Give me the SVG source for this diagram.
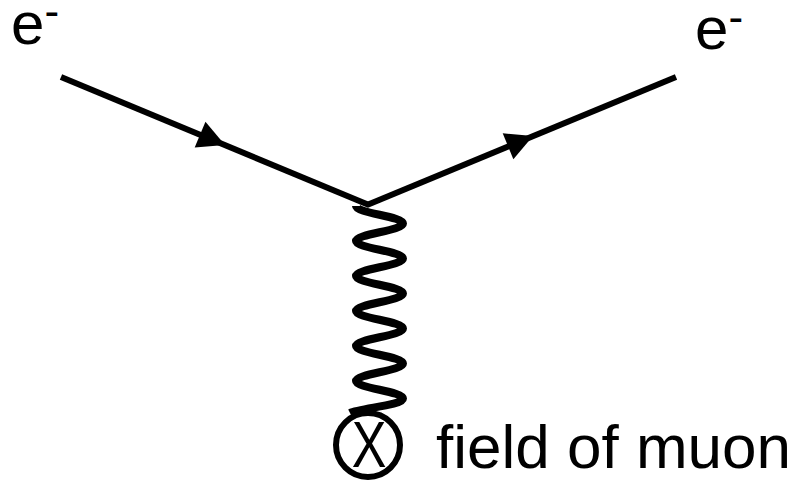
<svg xmlns="http://www.w3.org/2000/svg" xmlns:xlink="http://www.w3.org/1999/xlink" width="803" height="483" viewBox="0 0 803 483">
<style>
.line{fill:none;stroke:#000;stroke-width:6;}
.wave{fill:none;stroke:#000;stroke-width:8;stroke-linecap:butt;}
.lbl{font-family:"Liberation Sans",Arial,sans-serif;fill:#000;}
</style>
<defs>
<path id="arrow" d="M0,0 L-27,-14 L-27,14 Z" fill="#000"/>
</defs>
<rect width="803" height="483" fill="#fff"/>
<g id="connectors">
<line class="line" x1="61" y1="77" x2="369" y2="205"/>
<line class="line" x1="367" y1="205" x2="676" y2="77"/>
<use xlink:href="#arrow" transform="translate(225,145) rotate(22.6)"/>
<use xlink:href="#arrow" transform="translate(533,136) rotate(-22.4)"/>
<path class="wave" d="M356,206 C356,213 403,216.5 403,223.5 C403,230.5 356,234 356,241 C356,248 403,251.5 403,258.5 C403,265.5 356,269 356,276 C356,283 403,286.5 403,293.5 C403,300.5 356,304 356,311 C356,318 403,321.5 403,328.5 C403,335.5 356,339 356,346 C356,353 403,356.5 403,363.5 C403,370.5 356,374 356,381 C356,388 403,391.5 403,398.5 C403,405.5 360,408 350,413"/>
</g>
<g id="e-in">
<text class="lbl" x="11" y="44" font-size="60">e<tspan font-size="44" dy="-18">-</tspan></text>
</g>
<g id="e-out">
<text class="lbl" x="695" y="49" font-size="60">e<tspan font-size="44" dy="-17">-</tspan></text>
</g>
<g id="muon">
<circle cx="368" cy="445" r="32" fill="none" stroke="#000" stroke-width="6"/>
<text class="lbl" transform="scale(0.8,1)" x="461.25" y="467" font-size="65" text-anchor="middle">X</text>
<text class="lbl" x="436" y="468" font-size="62">field of muon</text>
</g>
</svg>
